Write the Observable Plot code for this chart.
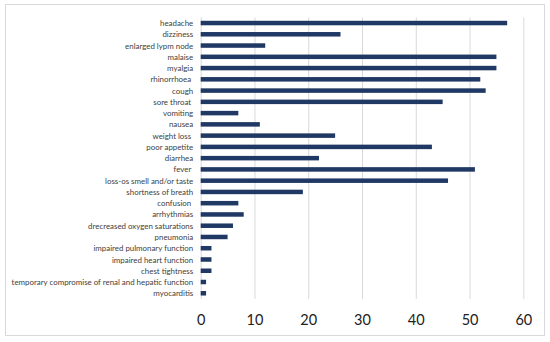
<!DOCTYPE html>
<html><head><meta charset="utf-8">
<script src="https://cdn.jsdelivr.net/npm/d3@7"></script>
<script src="https://cdn.jsdelivr.net/npm/@observablehq/plot@0.6"></script>
<style>
html,body{margin:0;padding:0;background:#fff;}
#wrap{position:relative;width:550px;height:342px;}
#frame{position:absolute;left:4.5px;top:4px;width:540px;height:332px;border:1px solid #d9d9d9;box-sizing:border-box;}
#chart{position:absolute;left:0;top:0;}
</style>
</head><body>
<div id="wrap"><div id="frame"></div><div id="chart"></div></div>
<script>
const symptoms = ["headache","dizziness","enlarged lypm node","malaise","myalgia","rhinorrhoea\u00a0","cough","sore throat\u00a0","vomiting","nausea","weight loss\u00a0","poor appetite","diarrhea","fever\u00a0","loss-os smell and/or taste","shortness of breath","confusion\u00a0","arrhythmias","drecreased oxygen saturations","pneumonia","impaired pulmonary function","impaired heart function","chest tightness","temporary compromise of renal and hepatic function","myocarditis"];
const counts = [57,26,12,55,55,52,53,45,7,11,25,43,22,51,46,19,7,8,6,5,2,2,2,1,1];
const xTicks = [0,10,20,30,40,50,60];

const data = symptoms.map((s,i)=>({symptom:s, count:counts[i]}));

const chart = Plot.plot({
  width: 550,
  height: 342,
  marginLeft: 200.7,
  marginRight: 26.7,
  marginTop: 17.4,
  marginBottom: 43.1,
  style: {fontFamily: "Lato, 'Open Sans', sans-serif", background: "transparent"},
  x: {domain: [0,60], ticks: xTicks},
  y: {domain: symptoms, paddingInner: 0.6, paddingOuter: 0.3, align: 0.5, round: false},
  marks: [
    Plot.gridX(xTicks, {stroke: "#d9d9d9", strokeOpacity: 1, strokeWidth: 1}),
    Plot.barX(data, {x: "count", y: "symptom", fill: "#1f3864"}),
    Plot.axisY({tickSize: 0, tickPadding: 8, fontSize: 7.9, fill: "#404040", label: null}),
    Plot.axisX(xTicks, {tickSize: 0, tickPadding: 15, fontSize: 14.5, fill: "#222", label: null, tickFormat: d => String(d)})
  ]
});
document.getElementById("chart").appendChild(chart);
</script>
</body></html>
